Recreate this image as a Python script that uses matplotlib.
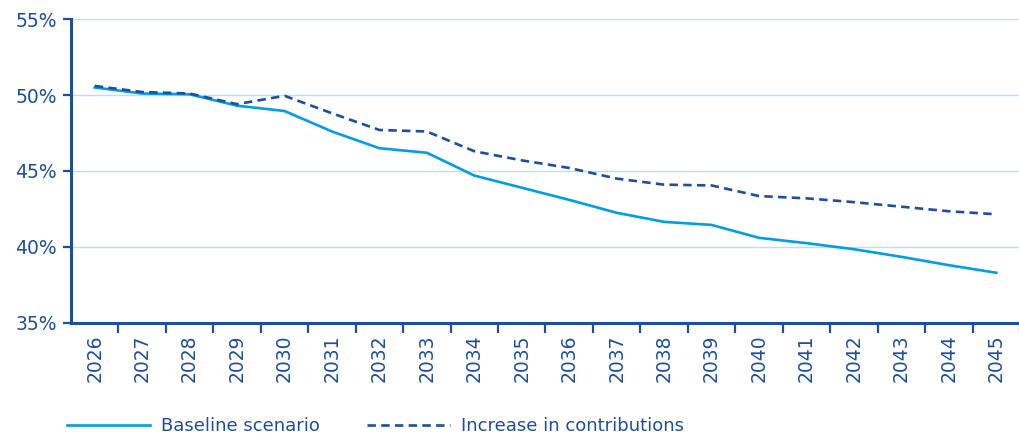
import matplotlib
matplotlib.use('Agg')
import matplotlib.pyplot as plt
import numpy as np

years = [str(y) for y in range(2026, 2046)]
baseline = [50.5, 50.1, 50.05, 49.3, 48.95, 47.6, 46.5, 46.2, 44.7, 43.9,
            43.1, 42.25, 41.65, 41.45, 40.6, 40.25, 39.85, 39.35, 38.8, 38.3]
increase = [50.6, 50.2, 50.1, 49.4, 49.95, 48.8, 47.7, 47.6, 46.3, 45.7,
            45.2, 44.5, 44.1, 44.05, 43.35, 43.2, 42.95, 42.65, 42.35, 42.15]
y_ticks = [35, 40, 45, 50, 55]

DARK = '#1d4f9c'
LIGHT = '#009fe3'
GRID = '#b3e2f7'

fig = plt.figure(figsize=(10.2, 4.34), dpi=100)
ax = fig.add_axes([0.0696, 0.256, 0.9304, 0.700])

x = np.arange(len(years))
ax.plot(x, baseline, color=LIGHT, lw=1.9, label='Baseline scenario')
ax.plot(x, increase, color=DARK, lw=1.9, dashes=(3.2, 2.0),
        label='Increase in contributions')

ax.set_ylim(35, 55)
ax.set_yticks(y_ticks)
ax.set_yticklabels(['{}%'.format(v) for v in y_ticks])
ax.set_xlim(-0.5, len(years) - 0.5)
ax.set_xticks(x)
ax.set_xticklabels(years, rotation=90)
# tick marks sit between the categories
ax.set_xticks(np.arange(len(years)) + 0.5, minor=True)
ax.tick_params(axis='x', which='major', length=0, pad=8, labelsize=13.5,
               labelcolor=DARK)
ax.tick_params(axis='x', which='minor', length=7, width=1.6, color=DARK,
               direction='out')
ax.tick_params(axis='y', length=6, width=1.6, color=DARK, labelsize=13.5,
               labelcolor=DARK, pad=4)

ax.grid(axis='y', color=GRID, lw=1)
ax.set_axisbelow(True)
for s in ['top', 'right']:
    ax.spines[s].set_visible(False)
for s in ['left', 'bottom']:
    ax.spines[s].set_color(DARK)
    ax.spines[s].set_linewidth(2.2)

leg = fig.legend(loc='lower left', bbox_to_anchor=(0.05, -0.04), ncol=2,
                 frameon=False, fontsize=13, handlelength=4.6,
                 columnspacing=2.6, handletextpad=0.6)
for t in leg.get_texts():
    t.set_color(DARK)

fig.savefig('out.png', dpi=100)
